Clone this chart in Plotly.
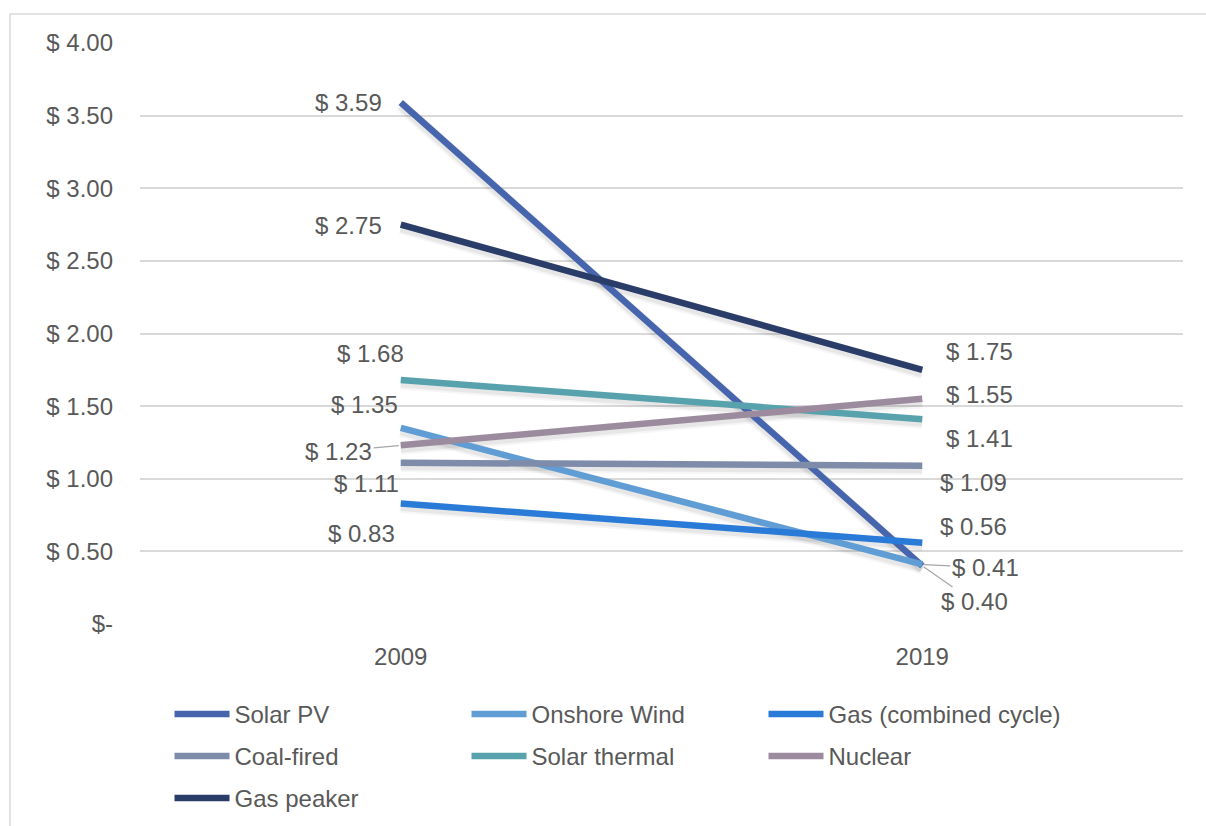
import plotly.graph_objects as go

years = ["2009", "2019"]
series_names = ["Solar PV", "Onshore Wind", "Gas (combined cycle)", "Coal-fired",
                "Solar thermal", "Nuclear", "Gas peaker"]
solar_pv = [3.59, 0.40]
onshore_wind = [1.35, 0.41]
gas_cc = [0.83, 0.56]
coal_fired = [1.11, 1.09]
solar_thermal = [1.68, 1.41]
nuclear = [1.23, 1.55]
gas_peaker = [2.75, 1.75]
series_values = [solar_pv, onshore_wind, gas_cc, coal_fired, solar_thermal, nuclear, gas_peaker]
colors = ["#4665ad", "#5f9dd4", "#2a7bd8", "#7e8caa", "#57a2ad", "#9c8b9e", "#2a3c68"]
legend_rows = ["legend", "legend", "legend", "legend2", "legend2", "legend2", "legend3"]

y_tickvals = [0, 0.5, 1.0, 1.5, 2.0, 2.5, 3.0, 3.5, 4.0]
y_ticktext = ["$-", "$ 0.50", "$ 1.00", "$ 1.50", "$ 2.00", "$ 2.50", "$ 3.00", "$ 3.50", "$ 4.00"]

# label offsets (pixels) per series: (2009 dx, dy, arrow), (2019 dx, dy, arrow)
label_style = {
    "Solar PV": [(-52, 0, False), (52, 36, True)],
    "Onshore Wind": [(-36, -23, False), (63, 3, True)],
    "Gas (combined cycle)": [(-39, 30, False), (51, -16, False)],
    "Coal-fired": [(-34, 21, False), (51, 17, False)],
    "Solar thermal": [(-30, -26, False), (57, 19, False)],
    "Nuclear": [(-62, 6, True), (57, -4, False)],
    "Gas peaker": [(-52, 1, False), (57, -18, False)],
}

FONT = "Liberation Sans, Arial, sans-serif"
TXT = "#595959"
FS = 24
SHADOW_SHIFT = 3 * 4.0 / 581  # 3 px downward offset for the soft shadow

fig = go.Figure()
# soft shadows (main y axis, range shifted so they sit a few px lower)
for name, vals in zip(series_names, series_values):
    for w, a in ((13, 0.035), (9, 0.06)):
        fig.add_trace(go.Scatter(
            x=years, y=vals, mode="lines", showlegend=False, hoverinfo="skip",
            line=dict(color=f"rgba(0,0,0,{a})", width=w), yaxis="y",
        ))
for name, vals, col, lg in zip(series_names, series_values, colors, legend_rows):
    fig.add_trace(go.Scatter(
        x=years, y=vals, mode="lines", name=name, legend=lg, yaxis="y2",
        line=dict(color=col, width=6.5),
    ))

annotations = []
for name, vals in zip(series_names, series_values):
    for i, v in enumerate(vals):
        dx, dy, arrow = label_style[name][i]
        txt = f"$ {v:.2f}"
        if arrow:
            annotations.append(dict(
                x=i, y=v, xref="x", yref="y2", text=txt, showarrow=True,
                ax=dx, ay=dy, arrowhead=0, arrowwidth=1.2, arrowcolor="#a6a6a6",
                standoff=2, font=dict(family=FONT, size=FS, color=TXT),
            ))
        else:
            annotations.append(dict(
                x=i, y=v, xref="x", yref="y2", text=txt, showarrow=False,
                xshift=dx, yshift=-dy, font=dict(family=FONT, size=FS, color=TXT),
            ))

def legend_row(top_px):
    return dict(
        orientation="h", xref="container", yref="container",
        x=169.5 / 1206, y=1 - top_px / 826, xanchor="left", yanchor="top",
        entrywidth=227, entrywidthmode="pixels", itemwidth=55,
        font=dict(family=FONT, size=FS, color=TXT),
        traceorder="normal", bgcolor="rgba(0,0,0,0)",
    )

fig.update_layout(
    width=1206, height=826,
    margin=dict(l=140, r=23, t=43, b=202),
    paper_bgcolor="white", plot_bgcolor="white",
    font=dict(family=FONT, size=FS, color=TXT),
    showlegend=True,
    legend=legend_row(692),
    legend2=legend_row(734),
    legend3=legend_row(776),
    xaxis=dict(
        type="category", range=[-0.5, 1.5], showgrid=False, showline=False,
        zeroline=False, ticks="", ticklabelstandoff=16,
        tickfont=dict(family=FONT, size=FS, color=TXT),
    ),
    yaxis=dict(
        range=[SHADOW_SHIFT, 4.0 + SHADOW_SHIFT], tickvals=y_tickvals, ticktext=y_ticktext,
        showgrid=False, zeroline=False, showticklabels=False,
        showline=False, ticks="",
    ),
    yaxis2=dict(
        overlaying="y", side="left",
        range=[0, 4.0], tickvals=y_tickvals, ticktext=y_ticktext,
        showgrid=True, gridcolor="#d9d9d9", gridwidth=1.5, zeroline=False,
        showline=False, ticks="", ticklabelstandoff=26,
        tickfont=dict(family=FONT, size=FS, color=TXT),
    ),
    annotations=annotations,
    shapes=[dict(type="rect", xref="paper", yref="paper",
                 x0=(10 - 140) / 1043, x1=(1215 - 140) / 1043,
                 y0=(624 - 840) / 581, y1=(624 - 14) / 581,
                 line=dict(color="#d9d9d9", width=1.5), layer="below")],
)

fig.write_html("out.html")
